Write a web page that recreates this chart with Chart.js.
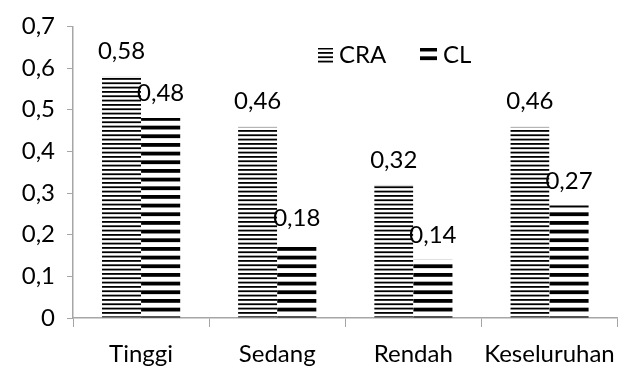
<!DOCTYPE html>
<html>
<head>
<meta charset="utf-8">
<script src="https://cdn.jsdelivr.net/npm/chart.js@4"></script>
<style>
  html, body { margin: 0; padding: 0; background: #fff; }
  #wrap { width: 629px; height: 368px; }
</style>
</head>
<body>
<div id="wrap"><canvas id="chart" width="629" height="368"></canvas></div>
<script>
// ===== data =====
const categories = ['Tinggi', 'Sedang', 'Rendah', 'Keseluruhan'];
const seriesNames = ['CRA', 'CL'];
const craValues = [0.58, 0.46, 0.32, 0.46];
const clValues = [0.48, 0.18, 0.14, 0.27];

const FONT = 'Lato, "Open Sans", sans-serif';
const FSIZE = 24;
const AXIS_GRAY = '#a6a6a6';

// horizontal stripes: a 26px tall tile, bands given as [top, height]
function stripes(bands) {
  const c = document.createElement('canvas');
  c.width = 4;
  c.height = 26;
  const g = c.getContext('2d');
  g.fillStyle = '#fff';
  g.fillRect(0, 0, 4, 26);
  g.fillStyle = '#000';
  bands.forEach(b => g.fillRect(0, b[0], 4, b[1]));
  return g.createPattern(c, 'repeat');
}

const ctx = document.getElementById('chart').getContext('2d');
// CRA: thin lines roughly every 4.3px
const craPattern = stripes([[0, 1.8], [4.33, 1.8], [8.67, 1.8], [13, 1.8], [17.33, 1.8], [21.67, 1.8]]);
// CL: thick bands every ~8.7px
const clPattern = stripes([[4.33, 3.8], [13, 3.8], [21.67, 3.8]]);

const fmt = v => v === 0 ? '0' : (Math.round(v * 100) / 100).toString().replace('.', ',');

// value labels above bars + the small legend inside the plot
const labelsPlugin = {
  id: 'valueLabels',
  afterDatasetsDraw(chart) {
    const c = chart.ctx;
    c.save();
    c.font = FSIZE + 'px ' + FONT;
    c.fillStyle = '#000';
    c.textAlign = 'center';
    c.textBaseline = 'alphabetic';
    chart.data.datasets.forEach((ds, di) => {
      chart.getDatasetMeta(di).data.forEach((bar, i) => {
        c.fillText(fmt(ds.data[i]), bar.x, bar.y - 17);
      });
    });

    // legend
    const items = [
      { x: 318, w: 15, fill: craPattern, text: seriesNames[0] },
      { x: 420, w: 17, fill: clPattern, text: seriesNames[1] }
    ];
    c.textAlign = 'left';
    items.forEach(it => {
      c.fillStyle = it.fill;
      c.fillRect(it.x, 48, it.w, 15);
      c.fillStyle = '#000';
      c.fillText(it.text, it.x + it.w + 6, 63);
    });
    c.restore();
  }
};

new Chart(ctx, {
  type: 'bar',
  data: {
    labels: categories,
    datasets: [
      {
        label: seriesNames[0],
        data: craValues,
        backgroundColor: craPattern,
        borderColor: '#c8c8c8',
        borderWidth: { top: 1, left: 0, right: 0, bottom: 0 },
        borderSkipped: 'bottom'
      },
      {
        label: seriesNames[1],
        data: clValues,
        backgroundColor: clPattern,
        borderWidth: 0
      }
    ]
  },
  options: {
    responsive: false,
    animation: false,
    devicePixelRatio: 1,
    categoryPercentage: 0.575,
    barPercentage: 1.0,
    layout: { padding: { left: 0, right: 10, top: 22, bottom: 0 } },
    plugins: {
      legend: { display: false },
      tooltip: { enabled: false }
    },
    scales: {
      x: {
        grid: {
          offset: true,
          drawOnChartArea: false,
          drawTicks: true,
          tickLength: 9,
          color: AXIS_GRAY
        },
        border: { color: AXIS_GRAY, width: 1.5 },
        ticks: {
          color: '#000',
          font: { family: FONT, size: FSIZE },
          padding: 13,
          maxRotation: 0,
          autoSkip: false
        },
        afterFit: s => { s.height = 50; }
      },
      y: {
        min: 0,
        max: 0.7,
        grid: {
          drawOnChartArea: false,
          drawTicks: true,
          tickLength: 6,
          color: AXIS_GRAY
        },
        border: { color: AXIS_GRAY, width: 1.5 },
        ticks: {
          stepSize: 0.1,
          color: '#000',
          font: { family: FONT, size: FSIZE },
          padding: 12,
          callback: v => fmt(v)
        },
        afterFit: s => { s.width = 73; }
      }
    }
  },
  plugins: [labelsPlugin]
});
</script>
</body>
</html>
